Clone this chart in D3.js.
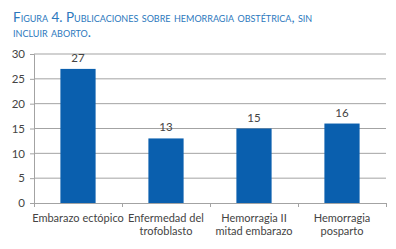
<!DOCTYPE html>
<html>
<head>
<meta charset="utf-8">
<script src="https://cdn.jsdelivr.net/npm/d3@7"></script>
<style>
  body { margin: 0; background: #fff; }
  text { font-family: Lato, "Open Sans", sans-serif; }
</style>
</head>
<body>
<div id="chart"></div>
<script>
// data
var categories = ["Embarazo ectópico", "Enfermedad del|trofoblasto", "Hemorragia II|mitad embarazo", "Hemorragia|posparto"];
var values = [27, 13, 15, 16];
var yTicks = [0, 5, 10, 15, 20, 25, 30];
var titleLines = ["Figura 4. Publicaciones sobre hemorragia obstétrica, sin", "incluir aborto."];

var W = 396, H = 249;
var margin = { top: 54, right: 10, bottom: 46, left: 34 },
    width = 386 - margin.left,
    height = 203 - margin.top;

var svg = d3.select("#chart").append("svg")
    .attr("width", W)
    .attr("height", H);

// title
svg.append("g").selectAll("text")
    .data(titleLines)
    .enter().append("text")
    .attr("x", 13)
    .attr("y", (d, i) => 22 + i * 15)
    .attr("fill", "#2b78bd")
    .style("font-size", "13.5px")
    .style("font-variant", "small-caps")
    .text(d => d);

var g = svg.append("g")
    .attr("transform", "translate(" + margin.left + "," + margin.top + ")");

var x = d3.scaleBand()
    .domain(categories)
    .range([0, width])
    .paddingInner(0.6)
    .paddingOuter(0.3);

var y = d3.scaleLinear()
    .domain([0, 30])
    .range([height, 0]);

// grid lines
g.selectAll(".grid")
    .data(yTicks.filter(d => d > 0))
    .enter().append("line")
    .attr("x1", 0)
    .attr("x2", width)
    .attr("y1", d => y(d))
    .attr("y2", d => y(d))
    .attr("stroke", "#a3a3a3")
    .attr("stroke-width", 1);

// y axis
var yAxis = g.append("g")
    .call(d3.axisLeft(y).tickValues(yTicks).tickSize(4).tickPadding(5));
yAxis.select(".domain").attr("stroke", "#a3a3a3");
yAxis.selectAll(".tick line").attr("stroke", "#a3a3a3");
yAxis.selectAll(".tick text")
    .attr("fill", "#444")
    .style("font-size", "11.5px")
    .style("font-family", "Lato, sans-serif");

// x axis with ticks at category boundaries
var xb = d3.scaleLinear().domain([0, categories.length]).range([0, width]);
var xAxis = g.append("g")
    .attr("transform", "translate(0," + height + ")")
    .call(d3.axisBottom(xb).tickValues(d3.range(categories.length + 1)).tickSize(4).tickFormat(""));
xAxis.select(".domain").attr("stroke", "#a3a3a3");
xAxis.selectAll(".tick line").attr("stroke", "#a3a3a3");

// bars
g.selectAll(".bar")
    .data(values)
    .enter().append("rect")
    .attr("x", (d, i) => x(categories[i]))
    .attr("width", x.bandwidth())
    .attr("y", d => y(d))
    .attr("height", d => height - y(d))
    .attr("fill", "#0a5fae");

// value labels
g.selectAll(".val")
    .data(values)
    .enter().append("text")
    .attr("x", (d, i) => x(categories[i]) + x.bandwidth() / 2)
    .attr("y", d => y(d) - 7)
    .attr("text-anchor", "middle")
    .attr("fill", "#444")
    .style("font-size", "11.5px")
    .text(d => d);

// category labels
var labels = g.selectAll(".cat")
    .data(categories)
    .enter().append("text")
    .attr("x", d => x(d) + x.bandwidth() / 2)
    .attr("y", height + 19)
    .attr("text-anchor", "middle")
    .attr("fill", "#444")
    .style("font-size", "11px");
labels.selectAll("tspan")
    .data(d => d.split("|"))
    .enter().append("tspan")
    .attr("x", function () { return d3.select(this.parentNode).attr("x"); })
    .attr("dy", (d, i) => i === 0 ? 0 : 13)
    .text(d => d);
</script>
</body>
</html>
